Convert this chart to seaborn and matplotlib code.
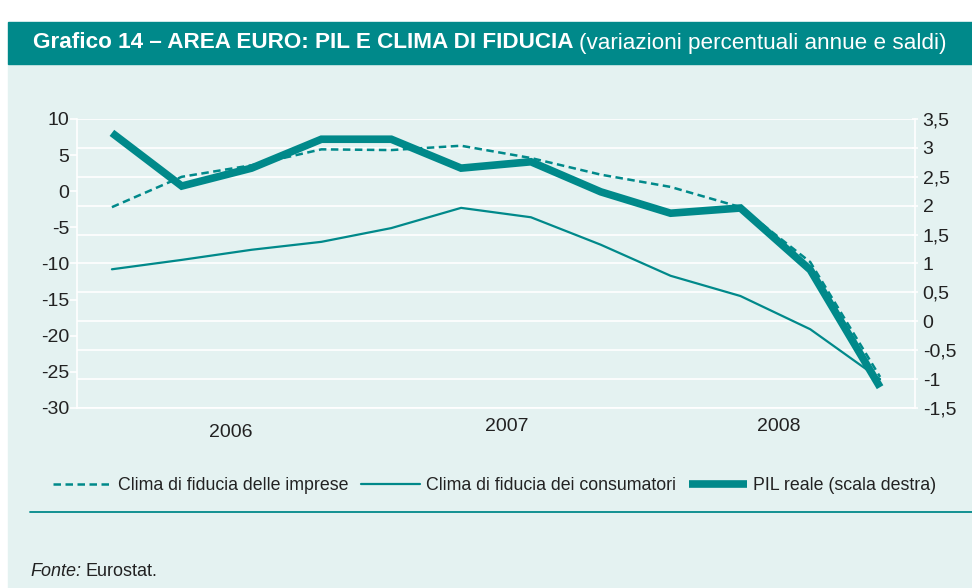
import pandas as pd
import matplotlib.pyplot as plt
import seaborn as sns
from matplotlib.patches import Rectangle
from matplotlib.lines import Line2D
from matplotlib.ticker import FixedLocator

# ------------------------------------------------------------
# Data (quarterly, 2006 Q1 - 2008 Q4)
# ------------------------------------------------------------
quarters = ['2006Q1', '2006Q2', '2006Q3', '2006Q4',
            '2007Q1', '2007Q2', '2007Q3', '2007Q4',
            '2008Q1', '2008Q2', '2008Q3', '2008Q4']
years = ['2006', '2007', '2008']
imprese = [-2.2, 2.0, 3.6, 5.8, 5.7, 6.3, 4.6, 2.3, 0.6, -2.2, -9.8, -25.7]
consumatori = [-10.8, -9.5, -8.1, -7.0, -5.1, -2.3, -3.6, -7.4, -11.7, -14.5, -19.1, -26.0]
pil = [3.26, 2.34, 2.65, 3.15, 3.15, 2.65, 2.76, 2.24, 1.87, 1.96, 0.89, -1.14]

left_ticks = [10, 5, 0, -5, -10, -15, -20, -25, -30]
right_ticks = [3.5, 3, 2.5, 2, 1.5, 1, 0.5, 0, -0.5, -1, -1.5]

df = pd.DataFrame({
    'q': range(len(quarters)),
    'imprese': imprese,
    'consumatori': consumatori,
    'pil': pil,
})

TEAL = '#00898a'
PANEL = '#e4f2f1'
TXT = '#222222'

sns.set_style("white")
plt.rcParams['font.family'] = ['Liberation Sans', 'DejaVu Sans']

fig = plt.figure(figsize=(9.72, 5.88), dpi=100, facecolor='white')
W, H = 972, 588

# background panel and title bar
fig.patches.append(Rectangle((8 / W, 0), 1 - 8 / W, 1 - 64 / H,
                             transform=fig.transFigure, color=PANEL, zorder=0))
fig.patches.append(Rectangle((8 / W, 1 - 64 / H), 1 - 8 / W, 42 / H,
                             transform=fig.transFigure, color=TEAL, zorder=0))

t1 = fig.text(33 / W, 1 - 43 / H, "Grafico 14 – AREA EURO: PIL E CLIMA DI FIDUCIA",
              color='white', fontsize=16.2, fontweight='bold', va='center', ha='left')
fig.add_artist(plt.Annotation("(variazioni percentuali annue e saldi)",
                              xy=(1, 0.5), xycoords=t1, xytext=(4, 0),
                              textcoords='offset points', color='white',
                              fontsize=16.2, va='center', ha='left'))

# ------------------------------------------------------------
# Axes
# ------------------------------------------------------------
ax = fig.add_axes([77 / W, 1 - 408 / H, 838 / W, 289 / H])
ax2 = ax.twinx()
ax.set_zorder(2)
ax.patch.set_visible(False)
ax2.set_zorder(1)
ax2.patch.set_facecolor(PANEL)

# thick GDP line on the right scale (drawn underneath)
sns.lineplot(data=df, x='q', y='pil', ax=ax2, color=TEAL, linewidth=5.5,
             solid_joinstyle='miter', solid_capstyle='butt')
# confidence indicators on the left scale
sns.lineplot(data=df, x='q', y='consumatori', ax=ax, color=TEAL, linewidth=1.6)
sns.lineplot(data=df, x='q', y='imprese', ax=ax, color=TEAL, linewidth=1.8,
             linestyle=(0, (3, 1.8)))

ax.set_xlim(-0.5, len(quarters) - 0.5)
ax.set_ylim(-30, 10)
ax2.set_ylim(-1.5, 3.5)

ax.set_yticks(left_ticks)
ax.set_yticklabels([str(t) for t in left_ticks])
ax2.set_yticks(right_ticks)
ax2.set_yticklabels([f"{t:g}".replace('.', ',') for t in right_ticks])

# year separators
ax.set_xticks([])
ax2.xaxis.set_major_locator(FixedLocator([3.5, 7.5]))
ax2.set_xticklabels([])
ax2.grid(True, color='white', linewidth=1.2)
ax.grid(False)

for a in (ax, ax2):
    for s in a.spines.values():
        s.set_visible(False)
for side in ('left', 'right', 'bottom'):
    ax2.spines[side].set_visible(True)
    ax2.spines[side].set_color('white')
    ax2.spines[side].set_linewidth(1.2)

ax.tick_params(axis='y', colors='white', labelcolor=TXT, length=5, width=1.2,
               labelsize=14, pad=0.5)
ax2.tick_params(axis='y', colors='white', labelcolor=TXT, length=5, width=1.2,
                labelsize=14, pad=3, direction='inout')
ax2.tick_params(axis='x', colors='white', length=6, width=1.2)
ax.set_xlabel('')
ax.set_ylabel('')
ax2.set_ylabel('')
ax2.set_xlabel('')

# year labels
year_pos = [1.7, 5.65, 9.55]
year_y = [-0.085, -0.065, -0.065]
for yl, xp, yp in zip(years, year_pos, year_y):
    ax.text(xp, yp, yl, transform=ax.get_xaxis_transform(), ha='center',
            va='center', fontsize=14, color=TXT)

# ------------------------------------------------------------
# Legend
# ------------------------------------------------------------
handles = [
    Line2D([], [], color=TEAL, linewidth=1.8, linestyle=(0, (3, 1.8))),
    Line2D([], [], color=TEAL, linewidth=1.6),
    Line2D([], [], color=TEAL, linewidth=5.5, solid_capstyle='butt'),
]
labels = ['Clima di fiducia delle imprese', 'Clima di fiducia dei consumatori',
          'PIL reale (scala destra)']
fig.legend(handles, labels, loc='center', bbox_to_anchor=(495 / W, 1 - 486 / H),
           ncol=3, frameon=False, fontsize=12.8, handlelength=3.3,
           handletextpad=0.35, columnspacing=0.7, labelcolor=TXT)

# footer
fig.add_artist(Line2D([30 / W, 1], [1 - 512 / H, 1 - 512 / H],
                      transform=fig.transFigure, color=TEAL, linewidth=1.3))
f1 = fig.text(30 / W, 1 - 572 / H, "Fonte:", fontsize=13, style='italic',
              color=TXT, va='center', ha='left')
fig.add_artist(plt.Annotation("Eurostat.", xy=(1, 0.5), xycoords=f1,
                              xytext=(3, 0), textcoords='offset points',
                              fontsize=13, color=TXT, va='center', ha='left'))

plt.savefig("out.png", dpi=100, facecolor='white')
plt.close()
